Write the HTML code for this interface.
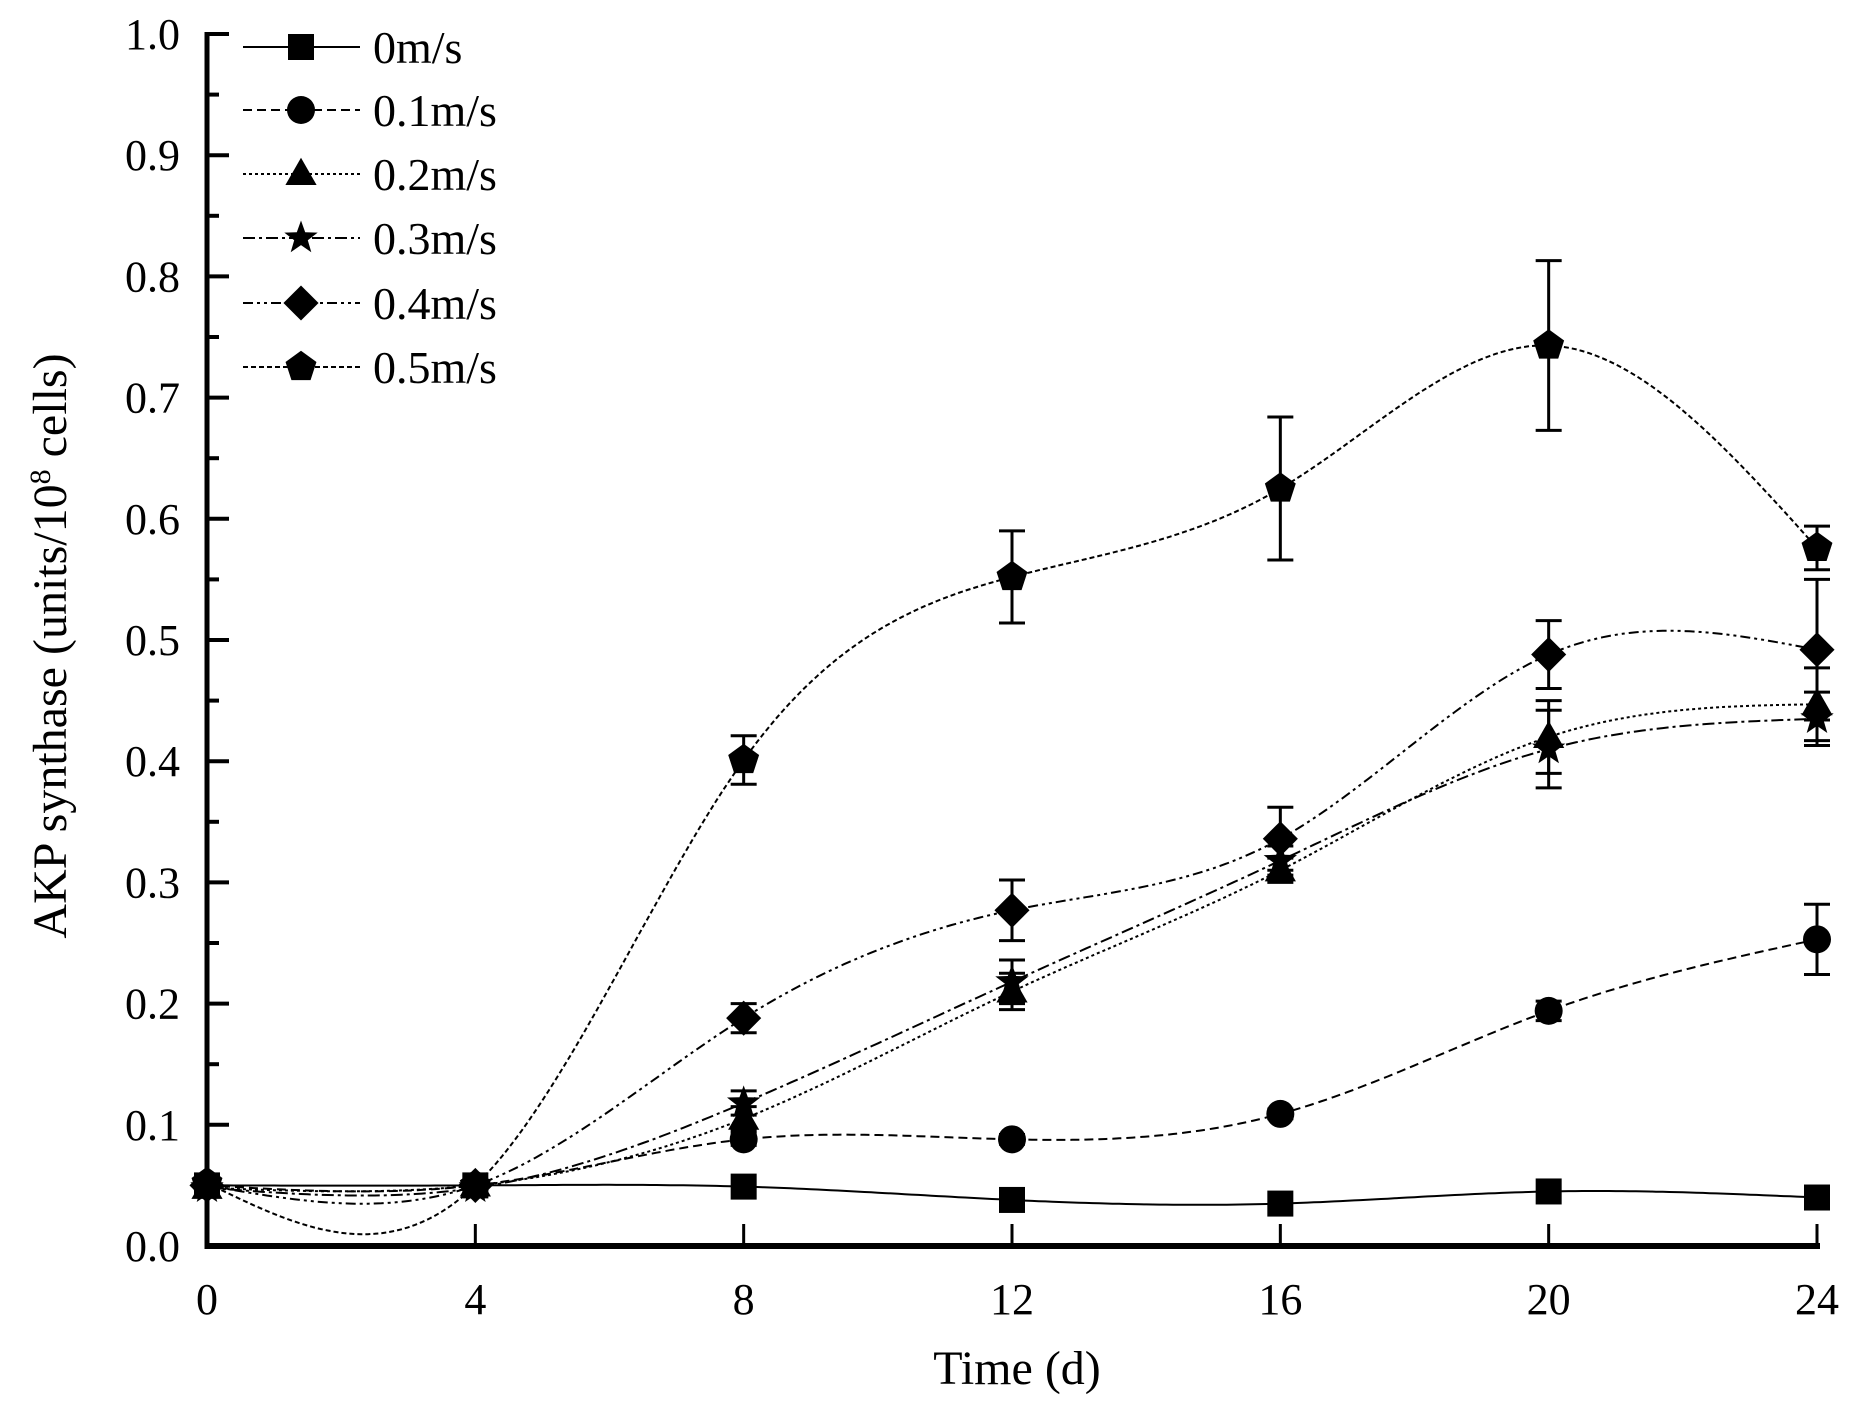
<!DOCTYPE html>
<html><head><meta charset="utf-8"><style>
html,body{margin:0;padding:0;background:#fff}
svg{display:block;font-family:"Liberation Serif",serif}
</style></head><body>
<svg id="chart" width="1866" height="1416" viewBox="0 0 1866 1416">
<g id="axes"></g><g id="series"></g><g id="legend"></g>
<text x="1017" y="1384" font-size="48" text-anchor="middle">Time (d)</text>
<text transform="translate(66,646) rotate(-90)" font-size="48" text-anchor="middle">AKP synthase (units/10<tspan baseline-shift="super" font-size="30">8</tspan> cells)</text>
</svg>
<script>
const days=[0,4,8,12,16,20,24];
const seriesNames=["0m/s","0.1m/s","0.2m/s","0.3m/s","0.4m/s","0.5m/s"];
const v0=[0.050,0.050,0.049,0.038,0.035,0.045,0.040];
const v1=[0.050,0.050,0.088,0.088,0.109,0.194,0.253];
const v2=[0.048,0.050,0.105,0.210,0.310,0.420,0.447];
const v3=[0.048,0.048,0.118,0.218,0.318,0.410,0.435];
const v4=[0.050,0.050,0.188,0.277,0.336,0.488,0.492];
const v5=[0.052,0.050,0.401,0.552,0.625,0.743,0.576];
const e0=[0,0,0,0,0,0,0];
const e1=[0,0,0.005,0.004,0.004,0.008,0.029];
const e2=[0,0,0.010,0.015,0.010,0.030,0.030];
const e3=[0,0,0.010,0.018,0.012,0.032,0.022];
const e4=[0,0,0.012,0.025,0.026,0.028,0.058];
const e5=[0,0,0.020,0.038,0.059,0.070,0.018];
const yTicks=["0.0","0.1","0.2","0.3","0.4","0.5","0.6","0.7","0.8","0.9","1.0"];
const xTicks=[0,4,8,12,16,20,24];
const vals=[v0,v1,v2,v3,v4,v5], errs=[e0,e1,e2,e3,e4,e5];
const dashes=["","9,5","3,3","12,4,3,4","10,4,3,4,3,4","5,3"];
const shapes=["square","circle","triangle","star","diamond","pentagon"];
const NS="http://www.w3.org/2000/svg";
const X0=207,X1=1817,Y0=1246,Y1=34;
const sx=d=>X0+(d-0)/24*(X1-X0);
const sy=v=>Y0-(v-0)/1.0*(Y0-Y1);
function mk(t,a,p){const e=document.createElementNS(NS,t);for(const k in a)e.setAttribute(k,a[k]);p.appendChild(e);return e;}
const ax=document.getElementById('axes');
let e=mk('line',{x1:X0,y1:Y1-2,x2:X0,y2:Y0+3,stroke:'#000','stroke-width':5},ax);

e=mk('line',{x1:X0-2,y1:Y0,x2:X1+3,y2:Y0,stroke:'#000','stroke-width':6},ax);

yTicks.forEach((t,i)=>{const v=parseFloat(t),y=sy(v);
 mk('line',{x1:X0,y1:y,x2:X0+22,y2:y,stroke:'#000','stroke-width':4},ax);
 if(i<yTicks.length-1){const ym=sy(v+0.05);mk('line',{x1:X0,y1:ym,x2:X0+12,y2:ym,stroke:'#000','stroke-width':4},ax);}
 const tx=mk('text',{x:180,y:y+15,'font-size':44,'text-anchor':'end'},ax);tx.textContent=t;
 });
xTicks.forEach(t=>{const x=sx(t);
 mk('line',{x1:x,y1:Y0,x2:x,y2:Y0-22,stroke:'#000','stroke-width':3},ax);
 const tx=mk('text',{x:x,y:1314,'font-size':44,'text-anchor':'middle'},ax);tx.textContent=t;
 });
function spline(xs,ys){const n=xs.length,h=[],a=[],l=[1],mu=[0],z=[0],c=new Array(n).fill(0),b=[],d=[];
 for(let i=0;i<n-1;i++)h[i]=xs[i+1]-xs[i];
 for(let i=1;i<n-1;i++)a[i]=3/h[i]*(ys[i+1]-ys[i])-3/h[i-1]*(ys[i]-ys[i-1]);
 for(let i=1;i<n-1;i++){l[i]=2*(xs[i+1]-xs[i-1])-h[i-1]*mu[i-1];mu[i]=h[i]/l[i];z[i]=(a[i]-h[i-1]*z[i-1])/l[i];}
 for(let j=n-2;j>=0;j--){c[j]=z[j]-mu[j]*c[j+1];b[j]=(ys[j+1]-ys[j])/h[j]-h[j]*(c[j+1]+2*c[j])/3;d[j]=(c[j+1]-c[j])/(3*h[j]);}
 return x=>{x=Math.min(xs[n-1],Math.max(xs[0],x));let j=0;while(j<n-2&&x>xs[j+1])j++;const t=x-xs[j];return ys[j]+b[j]*t+c[j]*t*t+d[j]*t*t*t;};}
function marker(s,x,y,r,p){let el;
 if(s==='square')el=mk('rect',{x:x-r,y:y-r,width:2*r,height:2*r},p);
 else if(s==='circle')el=mk('circle',{cx:x,cy:y,r:r+1},p);
 else{let pts=[];
  if(s==='triangle')pts=[[0,-r*1.25],[r*1.2,r*0.85],[-r*1.2,r*0.85]];
  if(s==='diamond')pts=[[0,-r*1.35],[r*1.35,0],[0,r*1.35],[-r*1.35,0]];
  if(s==='pentagon')for(let k=0;k<5;k++){const an=-Math.PI/2+k*2*Math.PI/5;pts.push([r*1.25*Math.cos(an),r*1.25*Math.sin(an)]);}
  if(s==='star')for(let k=0;k<10;k++){const an=-Math.PI/2+k*Math.PI/5,rr=k%2?r*0.55:r*1.35;pts.push([rr*Math.cos(an),rr*Math.sin(an)]);}
  el=mk('polygon',{points:pts.map(q=>(x+q[0])+','+(y+q[1])).join(' ')},p);}
 el.setAttribute('fill','#000');return el;}
const sg=document.getElementById('series');
vals.forEach((vs,si)=>{const g=mk('g',{},sg);
 
 
 const f=spline(days,vs);let dstr='';
 for(let k=0;k<=240;k++){const x=k/10;dstr+=(k===0?'M':'L')+sx(x).toFixed(1)+','+sy(f(x)).toFixed(1);}
 const pa={d:dstr,fill:'none',stroke:'#000','stroke-width':2};if(dashes[si])pa['stroke-dasharray']=dashes[si];
 mk('path',pa,g);
 vs.forEach((v,i)=>{const er=errs[si][i];const x=sx(days[i]);
  if(er>0){const eb=mk('g',{stroke:'#000','stroke-width':3},g);
   
   mk('line',{x1:x,y1:sy(v+er),x2:x,y2:sy(v-er)},eb);
   mk('line',{x1:x-13,y1:sy(v+er),x2:x+13,y2:sy(v+er)},eb);
   mk('line',{x1:x-13,y1:sy(v-er),x2:x+13,y2:sy(v-er)},eb);}
  const m=marker(shapes[si],x,sy(v),13,g);
  });});
const lg=document.getElementById('legend');
const rowY=[47,110,174,238,303,367];
seriesNames.forEach((n,i)=>{const g=mk('g',{},lg);
 
 const pa={x1:243,y1:rowY[i],x2:360,y2:rowY[i],stroke:'#000','stroke-width':2};if(dashes[i])pa['stroke-dasharray']=dashes[i];
 mk('line',pa,g);marker(shapes[i],301,rowY[i],13,g);
 const t=mk('text',{x:373,y:rowY[i]+16,'font-size':46},g);t.textContent=n;});
</script>
</body></html>
